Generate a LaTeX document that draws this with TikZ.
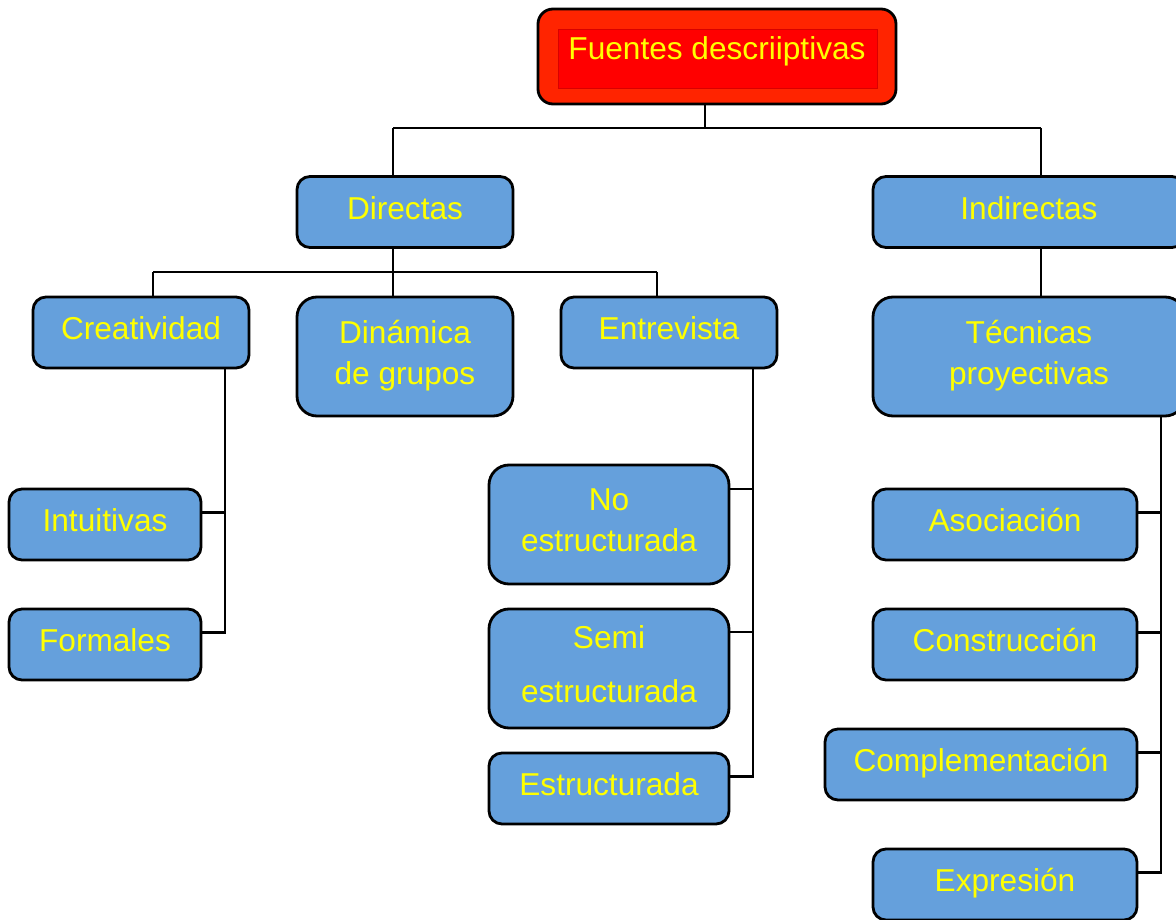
\documentclass[tikz,border=0pt]{standalone}
\usepackage{fontspec}
\setmainfont{Liberation Sans}
\usepackage{xcolor}
\definecolor{boxblue}{RGB}{101,160,220}
\definecolor{topred}{RGB}{255,36,0}
\definecolor{txtyellow}{RGB}{255,255,0}

\begin{document}
\begin{tikzpicture}[
            box/.style = {draw=black, line width=1.6pt, rounded corners=0.26cm,
                          fill=boxblue, text=txtyellow, align=center,
                          font=\fontsize{18}{23.5}\selectfont, text depth=5pt,
                          minimum width=4.32cm, minimum height=1.42cm},
            tall/.style = {minimum height=2.38cm, rounded corners=0.4cm},
            link/.style = {line width=1.45pt, black}
        ]
\useasboundingbox (0,0) rectangle (23.52,-18.4);
\clip (0,0) rectangle (23.52,-18.4);

% top node
\node[draw=black, line width=1.6pt, rounded corners=0.3cm, fill=topred,
      minimum width=7.16cm, minimum height=1.9cm] (top) at (14.34,-1.13) {};
\node[draw=red!85!black, line width=0.3pt, fill=red,
      minimum width=6.38cm, minimum height=1.18cm] (topin) at (14.35,-1.17) {};
\node[text=txtyellow, font=\fontsize{18}{23.5}\selectfont] (toptxt) at (14.34,-1.03) {Fuentes descriiptivas};

% second level
\node[box] (dir) at (8.1,-4.24) {Directas};
\node[box, minimum width=6.24cm] (ind) at (20.58,-4.24) {Indirectas};

% third level
\node[box] (crea) at (2.82,-6.65) {Creatividad};
\node[box, tall] (dina) at (8.1,-7.13) {Dinámica\\de grupos};
\node[box] (entr) at (13.38,-6.65) {Entrevista};
\node[box, tall, minimum width=6.24cm] (tec) at (20.58,-7.13) {Técnicas\\proyectivas};

% creatividad
\node[box, minimum width=3.84cm] (intu) at (2.1,-10.49) {Intuitivas};
\node[box, minimum width=3.84cm] (form) at (2.1,-12.89) {Formales};

% entrevista
\node[box, tall, minimum width=4.8cm] (noes) at (12.18,-10.49) {No\\estructurada};
\node[box, tall, minimum width=4.8cm] (semi) at (12.18,-13.37) {Semi\\[7pt]estructurada};
\node[box, minimum width=4.8cm] (estr) at (12.18,-15.77) {Estructurada};

% tecnicas proyectivas
\node[box, minimum width=5.28cm] (asoc) at (20.1,-10.49) {Asociación};
\node[box, minimum width=5.28cm] (cons) at (20.1,-12.89) {Construcción};
\node[box, minimum width=6.24cm] (comp) at (19.62,-15.29) {Complementación};
\node[box, minimum width=5.28cm] (expr) at (20.1,-17.69) {Expresión};

% bus lines
\coordinate (t0) at (14.1,-2.56);
\coordinate (bL) at (7.86,-2.56);
\coordinate (bR) at (20.82,-2.56);
\coordinate (d0) at (7.86,-5.44);
\coordinate (dL) at (3.06,-5.44);
\coordinate (dR) at (13.14,-5.44);
\coordinate (cv) at (4.5,0);
\coordinate (ev) at (15.06,0);
\coordinate (tv) at (23.22,0);

\draw[link] (top.south -| t0) -- (t0);
\draw[link] (bL) -- (bR);
\draw[link] (bL) -- (bL |- dir.north);
\draw[link] (bR) -- (bR |- ind.north);

\draw[link] (dir.south -| d0) -- (d0);
\draw[link] (dL) -- (dR);
\draw[link] (dL) -- (dL |- crea.north);
\draw[link] (d0) -- (d0 |- dina.north);
\draw[link] (dR) -- (dR |- entr.north);

\draw[link] (ind.south -| bR) -- (tec.north -| bR);

% creatividad branch
\coordinate (intu-in) at ([yshift=0.24cm]intu.east);
\coordinate (form-in) at ([yshift=0.24cm]form.east);
\draw[link] (crea.south -| cv) -- (form-in -| cv) -- (form-in);
\draw[link] (intu-in) -- (intu-in -| cv);

% entrevista branch
\coordinate (noes-in) at ([yshift=0.71cm]noes.east);
\coordinate (semi-in) at ([yshift=0.73cm]semi.east);
\coordinate (estr-in) at ([yshift=0.24cm]estr.east);
\draw[link] (entr.south -| ev) -- (estr-in -| ev) -- (estr-in);
\draw[link] (noes-in) -- (noes-in -| ev);
\draw[link] (semi-in) -- (semi-in -| ev);

% tecnicas branch
\coordinate (asoc-in) at ([yshift=0.24cm]asoc.east);
\coordinate (cons-in) at ([yshift=0.24cm]cons.east);
\coordinate (comp-in) at ([yshift=0.24cm]comp.east);
\coordinate (expr-in) at ([yshift=0.24cm]expr.east);
\draw[link] (tec.south -| tv) -- (expr-in -| tv) -- (expr-in);
\draw[link] (asoc-in) -- (asoc-in -| tv);
\draw[link] (cons-in) -- (cons-in -| tv);
\draw[link] (comp-in) -- (comp-in -| tv);
\end{tikzpicture}
\end{document}
